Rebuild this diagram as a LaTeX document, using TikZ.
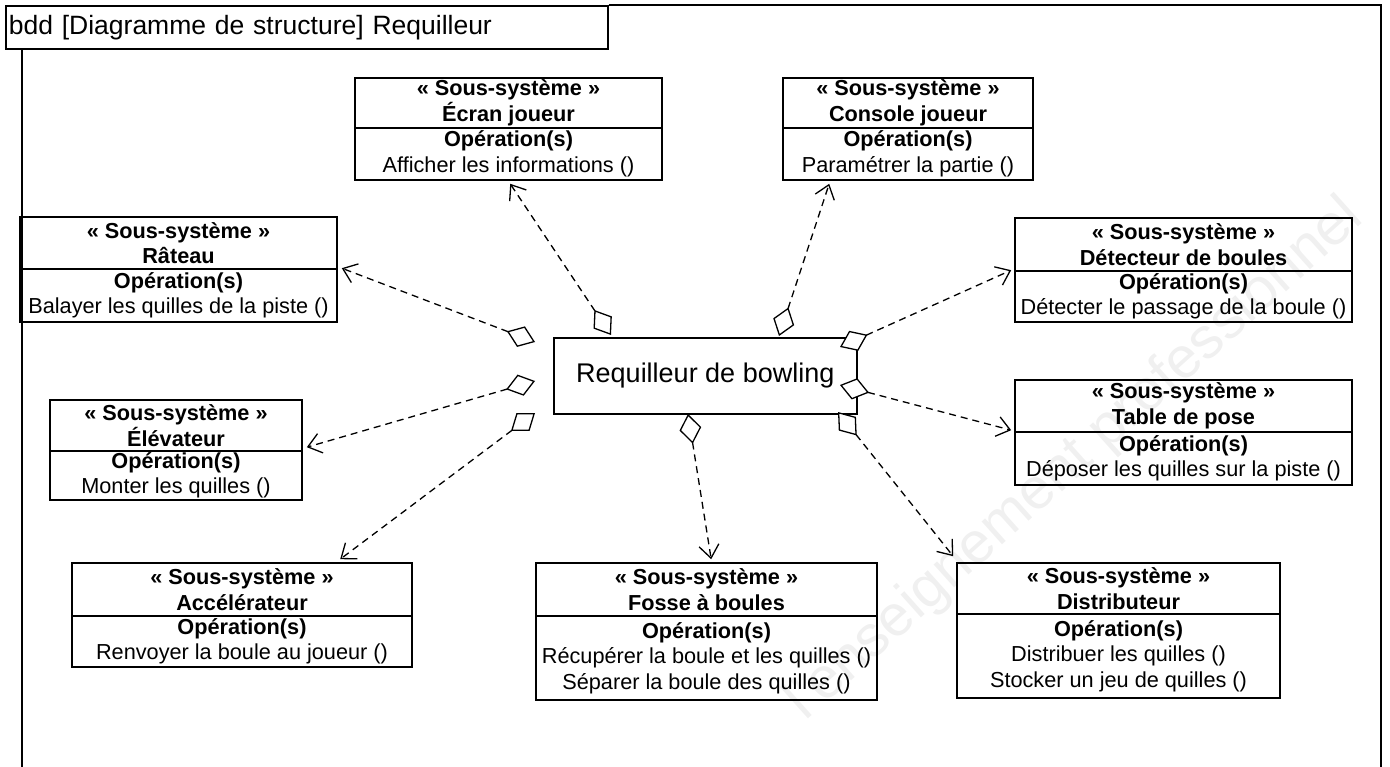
\documentclass[tikz,border=0pt]{standalone}
\usepackage{fontspec}
\setmainfont{Liberation Sans}
\usetikzlibrary{arrows.meta,fit,calc}
\newcommand{\subsys}[8]{%
  \node[ubox, fit={(#2,#3)(#4,#5)}] (#1) {};
  \draw[ubox] (#2,#6) -- (#4,#6);
  \node[utext, font=\fontsize{21.7}{25.5}\bfseries] (#1-t) at ($(#2,#3)!0.5!(#4,#6)$) {« Sous-système »\\#7};
  \node[utext] (#1-o) at ($(#2,#6)!0.5!(#4,#5)$) {\textbf{Opération(s)}\\#8};
}
\begin{document}
\begin{tikzpicture}[x=1pt,y=-1pt,
  ubox/.style={draw, line width=1.6pt, inner sep=0pt},
  utext/.style={align=center, font=\fontsize{21.7}{25.5}\selectfont, inner sep=0pt},
  assoc/.style={draw, line width=1.3pt, dash pattern=on 7pt off 5pt,
    {Diamond[length=30pt,width=22pt,line width=1.3pt,fill=white]}-{Straight Barb[length=13pt,width=20pt,line width=1.3pt]}},
]
\useasboundingbox (0,0) rectangle (1390,767);
% watermark
\node[rotate=41.8, anchor=base west, text=black!6, inner sep=0pt,
  font=\fontsize{58}{58}\selectfont] (wm) at (805,722) {l'enseignement professionnel};
% frame
\node[draw, line width=1.6pt, anchor=north west, minimum height=43pt,
  text width=596pt, inner xsep=3pt, inner ysep=0pt, align=left,
  font=\fontsize{26.5}{26.5}\selectfont] (title) at (5,5) {bdd [Diagramme de structure] Requilleur};
\draw[line width=1.6pt] (title.north east) -- (1381,5) -- (1381,767);
\draw[line width=1.6pt] ([xshift=17pt]title.south west) -- (22,767);
% boxes
\subsys{ecran}{355}{78}{662}{180}{128}{Écran joueur}{Afficher les informations ()}
\subsys{console}{783}{78}{1033}{180}{128}{Console joueur}{Paramétrer la partie ()}
\subsys{rateau}{20}{217}{337}{322}{269}{Râteau}{Balayer les quilles de la piste ()}
\subsys{detect}{1015}{218}{1352}{322}{271}{Détecteur de boules}{Détecter le passage de la boule ()}
\subsys{elev}{50}{400}{302}{500}{451}{Élévateur}{Monter les quilles ()}
\subsys{table}{1015}{380}{1352}{485}{432}{Table de pose}{Déposer les quilles sur la piste ()}
\subsys{accel}{72}{563}{412}{667}{616}{Accélérateur}{Renvoyer la boule au joueur ()}
\subsys{fosse}{536}{563}{877}{700}{616}{Fosse à boules}{Récupérer la boule et les quilles ()\\Séparer la boule des quilles ()}
\subsys{distrib}{957}{563}{1280}{698}{614}{Distributeur}{Distribuer les quilles ()\\Stocker un jeu de quilles ()}
% centre
\node[ubox, minimum width=303pt, minimum height=76pt, anchor=north west,
  font=\fontsize{27}{27}\selectfont] (ctr) at (553,337) {Requilleur de bowling};
% connectors
\draw[assoc] ([shift={(58,-2)}]ctr.north west) -- ([shift={(156,3)}]ecran.south west);
\draw[assoc] ([shift={(226,-1)}]ctr.north west) -- ([shift={(47,3)}]console.south west);
\draw[assoc] ([shift={(287,10)}]ctr.north west) -- ([shift={(-3,53)}]detect.north west);
\draw[assoc] ([shift={(287,48)}]ctr.north west) -- ([shift={(-3,51)}]table.north west);
\draw[assoc] ([shift={(285,75)}]ctr.north west) -- ([shift={(-3,-6)}]distrib.north west);
\draw[assoc] ([shift={(135,77)}]ctr.north west) -- ([shift={(176,-3)}]fosse.north west);
\draw[assoc] ([shift={(-18,5)}]ctr.north west) -- ([shift={(4,52)}]rateau.north east);
\draw[assoc] ([shift={(-18,44)}]ctr.north west) -- ([shift={(4,48)}]elev.north east);
\draw[assoc] ([shift={(-18,76)}]ctr.north west) -- ([shift={(269,-3)}]accel.north west);
\end{tikzpicture}
\end{document}
